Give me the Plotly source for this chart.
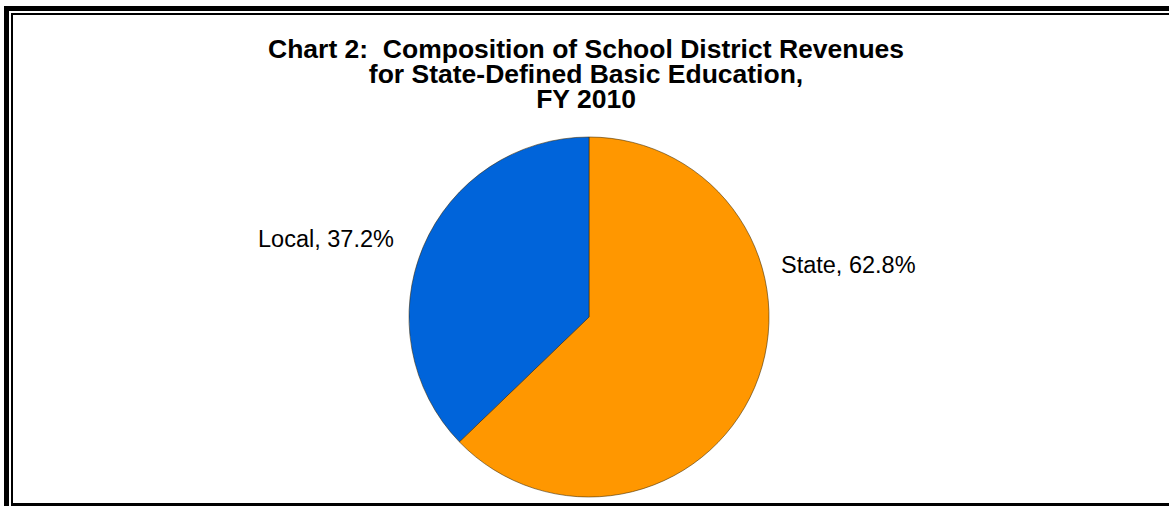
import plotly.graph_objects as go

# ---- data ----
categories = ["State", "Local"]
shares = [62.8, 37.2]
slice_colors = ["#FF9700", "#0064DA"]
title_lines = [
    "Chart 2:  Composition of School District Revenues",
    "for State-Defined Basic Education,",
    "FY 2010",
]

W, H = 1169, 506


def px(x):
    return x / W


def py(y):
    return 1 - y / H


# pie geometry (pixels)
cx, cy, r = 589, 317, 180

fig = go.Figure(
    go.Pie(
        labels=categories,
        values=shares,
        sort=False,
        direction="clockwise",
        rotation=0,
        marker=dict(colors=slice_colors, line=dict(color="rgba(60,40,0,0.55)", width=1)),
        textinfo="none",
        hoverinfo="label+percent",
        showlegend=False,
        domain=dict(x=[px(cx - r), px(cx + r)], y=[py(cy + r), py(cy - r)]),
    )
)

annotations = []
# title: one text block, tight line spacing (base size sets spacing, span sets glyph size)
title_text = "<br>".join(
    f'<span style="font-size:26.5px"><b>{line}</b></span>' for line in title_lines
)
annotations.append(
    dict(
        text=title_text,
        x=px(586),
        y=py(74),
        xref="paper",
        yref="paper",
        xanchor="center",
        yanchor="middle",
        align="center",
        showarrow=False,
        font=dict(family="Liberation Sans, Arial", size=19.2, color="black"),
    )
)

# slice labels
label_pos = {"Local": (396, 239, "right"), "State": (779, 265, "left")}
for cat, val in zip(categories, shares):
    x, y, anchor = label_pos[cat]
    annotations.append(
        dict(
            text=f"{cat}, {val:.1f}%",
            x=px(x),
            y=py(y),
            xref="paper",
            yref="paper",
            xanchor=anchor,
            yanchor="middle",
            showarrow=False,
            font=dict(family="Liberation Sans, Arial", size=23.5, color="black"),
        )
    )

# double border
rects = [
    (4, 6, 9, H),      # outer left thick
    (4, 6, W, 11),     # outer top thick
    (11, 13, 13, H),   # inner left thin
    (11, 13, W, 15),   # inner top thin
    (11, 503, W, H),   # bottom
]
shapes = []
for x0, y0, x1, y1 in rects:
    shapes.append(
        dict(
            type="rect",
            xref="paper",
            yref="paper",
            x0=px(x0),
            x1=px(x1),
            y0=py(y1),
            y1=py(y0),
            fillcolor="black",
            line=dict(width=0),
            layer="above",
        )
    )

fig.update_layout(
    width=W,
    height=H,
    margin=dict(l=0, r=0, t=0, b=0),
    paper_bgcolor="white",
    plot_bgcolor="white",
    annotations=annotations,
    shapes=shapes,
)

fig.write_html("out.html")
